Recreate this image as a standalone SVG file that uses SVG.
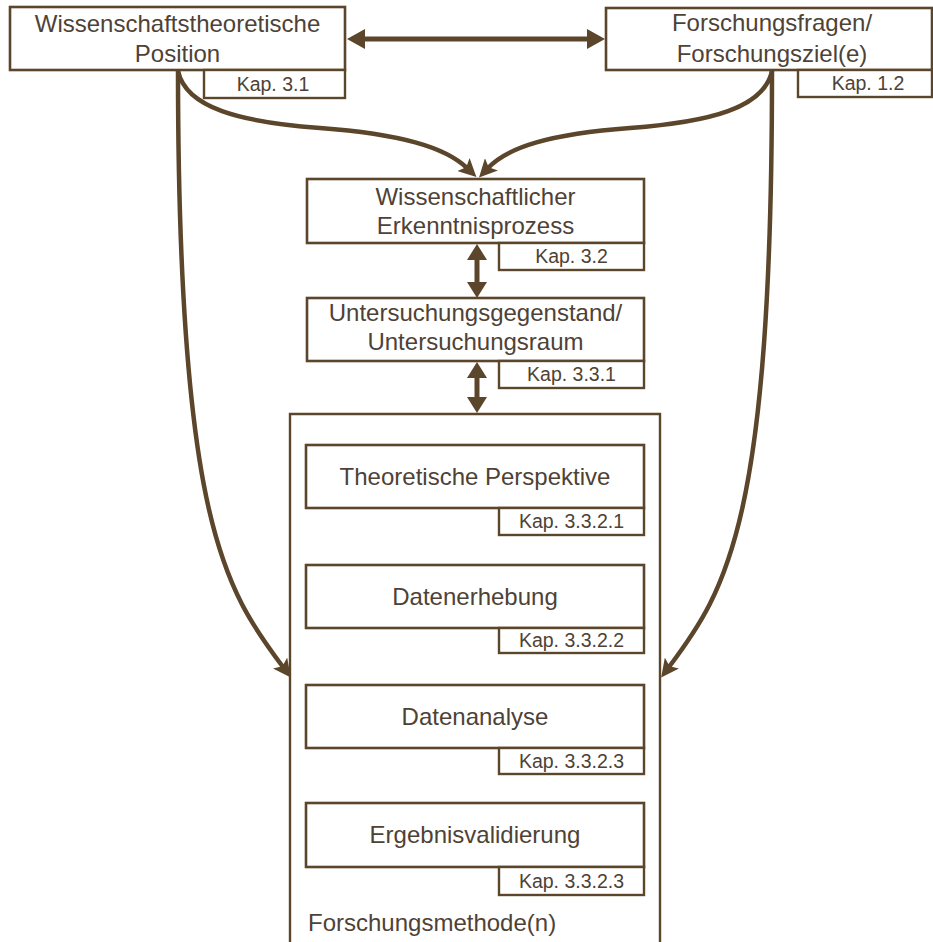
<svg xmlns="http://www.w3.org/2000/svg" width="933" height="942" viewBox="0 0 933 942">
<style>
.box{fill:#fff;stroke:#5b452b;stroke-width:2.6}
.kap{fill:#fff;stroke:#5b452b;stroke-width:2.4}
.t{font-family:"Liberation Sans",Arial,sans-serif;font-size:24px;fill:#4e4236;text-anchor:middle}
.k{font-family:"Liberation Sans",Arial,sans-serif;font-size:19.5px;fill:#4e4236;text-anchor:middle}
.cur{fill:none;stroke:#5b452b;stroke-width:4.5}
.dbl{fill:none;stroke:#5b452b;stroke-width:5}
</style>
<defs>
<marker id="ah" markerUnits="userSpaceOnUse" markerWidth="18" markerHeight="18" refX="5" refY="9" orient="auto">
<path d="M0,0 L18,9 L0,18 L4,9 z" fill="#5b452b"/>
</marker>
<marker id="dh" markerUnits="userSpaceOnUse" markerWidth="18" markerHeight="20" refX="5" refY="10" orient="auto-start-reverse">
<path d="M0,0 L18,10 L0,20 z" fill="#5b452b"/>
</marker>
<marker id="vh" markerUnits="userSpaceOnUse" markerWidth="16" markerHeight="20" refX="4" refY="10" orient="auto-start-reverse">
<path d="M0,0 L16,10 L0,20 z" fill="#5b452b"/>
</marker>
</defs>

<g id="container">
<path d="M290,945 V414 H660 V945" fill="none" stroke="#5b452b" stroke-width="2.4"/>
<text class="t" x="308" y="931" style="text-anchor:start">Forschungsmethode(n)</text>
</g>

<g id="connectors">
<path class="dbl" d="M360,39 H592" marker-start="url(#dh)" marker-end="url(#dh)"/>
<path class="cur" d="M178,71 C186,108 240,122 320,128 C400,134 445,147 467,168" marker-end="url(#ah)"/>
<path class="cur" d="M772,71 C764,108 710,122 630,128 C550,134 508,147 488,168" marker-end="url(#ah)"/>
<path class="cur" d="M178,71 C178,520 225,590 283,667" marker-end="url(#ah)"/>
<path class="cur" d="M772,71 C772,520 727,590 669,667" marker-end="url(#ah)"/>
<path class="dbl" d="M477,256 V286" marker-start="url(#vh)" marker-end="url(#vh)"/>
<path class="dbl" d="M477,374 V401" marker-start="url(#vh)" marker-end="url(#vh)"/>
</g>

<g id="wtp">
<rect class="box" x="10" y="7" width="335" height="63"/>
<text class="t" x="177.5" y="32">Wissenschaftstheoretische</text>
<text class="t" x="177.5" y="62">Position</text>
<rect class="kap" x="204" y="70" width="141" height="28"/>
<text class="k" x="273" y="91">Kap. 3.1</text>
</g>

<g id="ff">
<rect class="box" x="606" y="8" width="326" height="62"/>
<text class="t" x="772" y="31">Forschungsfragen/</text>
<text class="t" x="772" y="62">Forschungsziel(e)</text>
<rect class="kap" x="798" y="70" width="134" height="27"/>
<text class="k" x="868" y="90">Kap. 1.2</text>
</g>

<g id="wep">
<rect class="box" x="307" y="179" width="337" height="64"/>
<text class="t" x="475.5" y="205">Wissenschaftlicher</text>
<text class="t" x="475.5" y="234">Erkenntnisprozess</text>
<rect class="kap" x="499" y="243" width="145" height="27"/>
<text class="k" x="571.5" y="263">Kap. 3.2</text>
</g>

<g id="ug">
<rect class="box" x="307" y="298" width="337" height="63"/>
<text class="t" x="475.5" y="321">Untersuchungsgegenstand/</text>
<text class="t" x="475.5" y="350">Untersuchungsraum</text>
<rect class="kap" x="499" y="361" width="145" height="27"/>
<text class="k" x="571.5" y="381">Kap. 3.3.1</text>
</g>

<g id="tp">
<rect class="box" x="306" y="445" width="338" height="63"/>
<text class="t" x="475" y="485">Theoretische Perspektive</text>
<rect class="kap" x="499" y="508" width="145" height="27"/>
<text class="k" x="571.5" y="528">Kap. 3.3.2.1</text>
</g>

<g id="de">
<rect class="box" x="306" y="565" width="338" height="63"/>
<text class="t" x="475" y="605">Datenerhebung</text>
<rect class="kap" x="499" y="628" width="145" height="25"/>
<text class="k" x="571.5" y="647">Kap. 3.3.2.2</text>
</g>

<g id="da">
<rect class="box" x="306" y="685" width="338" height="63"/>
<text class="t" x="475" y="725">Datenanalyse</text>
<rect class="kap" x="499" y="748" width="145" height="26"/>
<text class="k" x="571.5" y="768">Kap. 3.3.2.3</text>
</g>

<g id="ev">
<rect class="box" x="306" y="803" width="338" height="64"/>
<text class="t" x="475" y="843">Ergebnisvalidierung</text>
<rect class="kap" x="499" y="867" width="145" height="28"/>
<text class="k" x="571.5" y="888">Kap. 3.3.2.3</text>
</g>
</svg>
